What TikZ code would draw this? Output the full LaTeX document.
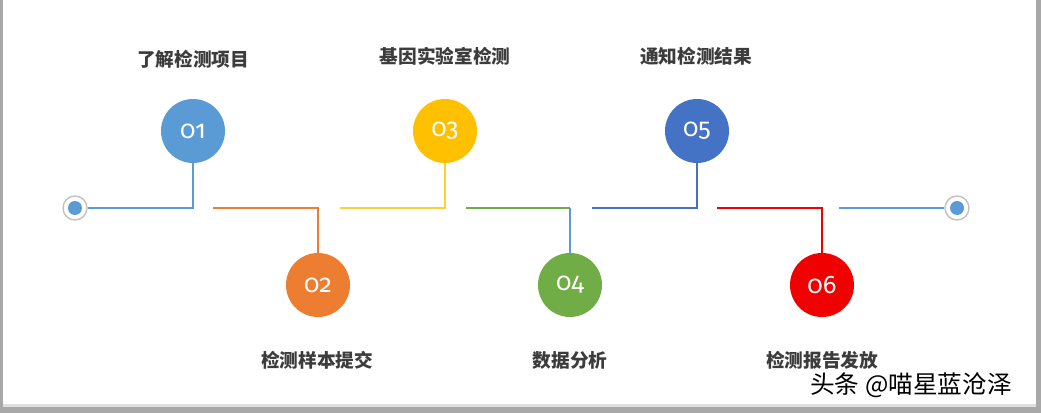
\documentclass[tikz,border=0pt]{standalone}
\usepackage{fontspec}
\setmainfont{Fira Sans}
\newfontfamily\cjk{Noto Sans CJK SC}
\newfontfamily\numfont{Fira Sans}[Numbers=OldStyle]
\definecolor{cA}{HTML}{5B9BD5}
\definecolor{cB}{HTML}{ED7D31}
\definecolor{cC}{HTML}{FFC000}
\definecolor{cCl}{HTML}{FFCF3A}
\definecolor{cD}{HTML}{70AD47}
\definecolor{cE}{HTML}{4472C4}
\definecolor{cF}{HTML}{F00000}
\definecolor{txt}{HTML}{3C3C3C}
\definecolor{frame}{HTML}{A8A8A8}
\tikzset{
  numc/.style={circle, fill=#1, minimum size=64*0.75pt, inner sep=0pt, text=white, font=\numfont\fontsize{19}{19}\selectfont},
  lab/.style={text=txt, font=\cjk\bfseries\fontsize{14}{14}\selectfont, inner sep=0pt},
  conn/.style={line width=2pt, draw=#1},
  ring/.style={circle, draw=black!25, fill=white, line width=1pt, minimum size=24*0.75pt, inner sep=0pt},
}
\begin{document}
\begin{tikzpicture}[x=0.75pt,y=-0.75pt]
\useasboundingbox (0,0) rectangle (1041,413);
\fill[white] (0,0) rectangle (1041,413);
% frame
\fill[frame] (0,0) rectangle (2.5,413);
\fill[frame] (1036,0) rectangle (1041,413);
\fill[frame] (0,407) rectangle (1041,413);
\fill[black!12] (2.5,404) rectangle (1036,407);
% end dots
\node[ring] (e0) at (75,208) {};
\fill[cA] (e0.center) circle (7);
\node[ring] (e7) at (957,208) {};
\fill[cA] (e7.center) circle (7);
% circles
\node[numc=cA] (c1) at (193,131) {01};
\node[numc=cB] (c2) at (318,285) {02};
\node[numc=cC] (c3) at (445,131) {03};
\node[numc=cD] (c4) at (570,285) {04};
\node[numc=cE] (c5) at (697,131) {05};
\node[numc=cF] (c6) at (822,285) {06};
% free ends
\coordinate (s2) at (213,208);
\coordinate (s3) at (340,208);
\coordinate (s4) at (466,208);
\coordinate (s5) at (592,208);
\coordinate (s6) at (717,208);
\coordinate (s7) at (839,208);
% connectors
\draw[conn=cA] (e0.east) -| (c1.south);
\draw[conn=cB] (s2) -| (c2.north);
\draw[conn=cCl] (s3) -| (c3.south);
\draw[conn=cD] (s4) -- (c4.north |- s4);
\draw[conn=cA] (c4.north |- s4) -- (c4.north);
\draw[conn=cE] (s5) -| (c5.south);
\draw[conn=cF] (s6) -| (c6.north);
\draw[conn=cA] (s7) -- (e7.west);
% labels
\node[lab] (l1) at (193,59) {了解检测项目};
\node[lab] (l3) at (445,56) {基因实验室检测};
\node[lab] (l5) at (696,56) {通知检测结果};
\node[lab] (l2) at (317,360) {检测样本提交};
\node[lab] (l4) at (570,360) {数据分析};
\node[lab] (l6) at (822,360) {检测报告发放};
% watermark
\node[anchor=west, inner sep=0pt, font=\cjk\fontsize{18.5}{18.5}\selectfont] (wm) at (810,385) {头条 @喵星蓝沧泽};
\end{tikzpicture}
\end{document}
